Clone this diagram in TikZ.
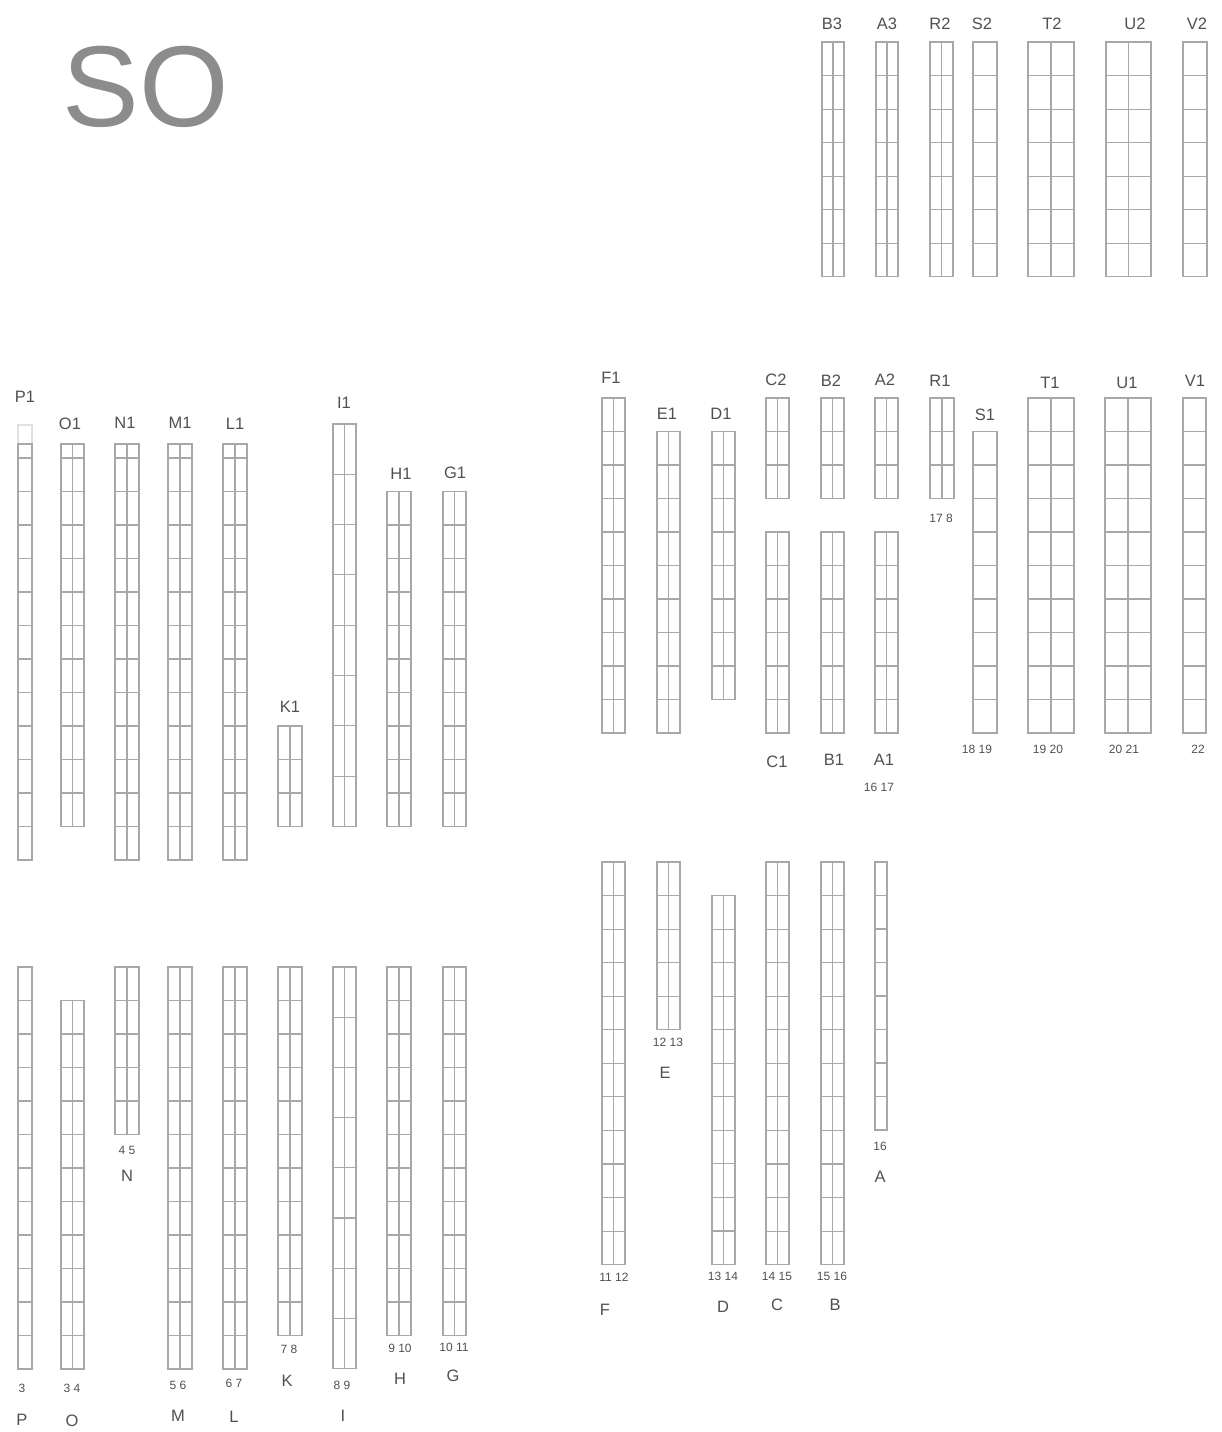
\documentclass[tikz,border=0pt]{standalone}
\usepackage{fontspec}
\setmainfont{Liberation Sans}
\definecolor{rackgray}{HTML}{A8A8A8}
\definecolor{labelgray}{HTML}{505050}
\definecolor{sogray}{HTML}{8C8C8C}
\tikzset{
  rk/.style={draw=rackgray, line width=1.1pt},
  lbl/.style={font=\fontsize{16.5}{16.5}\selectfont, text=labelgray, inner sep=0pt},
  num/.style={font=\fontsize{12}{12}\selectfont, text=labelgray, inner sep=0pt},
}
% #1 x, #2 width, #3 columns (1/2), #4 top, #5 pitch, #6 cells
\newcommand\rk[6]{%
  \pgfmathsetmacro\rkb{#4+#6*#5}%
  \pgfmathsetmacro\rkr{#1+#2}%
  \pgfmathsetmacro\rkm{#1+#2/2}%
  \draw[rk] (#1,#4) rectangle (\rkr,\rkb);
  \ifnum#3=2 \draw[rk] (\rkm,#4) -- (\rkm,\rkb);\fi
  \ifnum#6>1 \foreach \k in {2,...,#6}{\pgfmathsetmacro\rky{#4+(\k-1)*#5}\draw[rk] (#1,\rky) -- (\rkr,\rky);}\fi
}
% small cap cell: #1 x, #2 width, #3 columns, #4 top, #5 bottom
\newcommand\rkcap[5]{%
  \pgfmathsetmacro\rkr{#1+#2}%
  \pgfmathsetmacro\rkm{#1+#2/2}%
  \draw[rk] (#1,#4) rectangle (\rkr,#5);
  \ifnum#3=2 \draw[rk] (\rkm,#4) -- (\rkm,#5);\fi
}
\begin{document}
\begin{tikzpicture}[x=1pt,y=-1pt]
\useasboundingbox (0,0) rectangle (1221,1432);

\node[font=\fontsize{115}{115}\selectfont, text=sogray, inner sep=0pt, anchor=base] (so) at (146,126) {SO};

% ---------- top right group ----------
\rk{822}{22}{2}{42}{33.55}{7}
\rk{876}{22}{2}{42}{33.55}{7}
\rk{930}{23}{2}{42}{33.55}{7}
\rk{973}{24}{1}{42}{33.55}{7}
\rk{1028}{46}{2}{42}{33.55}{7}
\rk{1106}{45}{2}{42}{33.55}{7}
\rk{1183}{24}{1}{42}{33.55}{7}
\node[lbl] (lB3) at (832,24) {B3};
\node[lbl] (lA3) at (887,24) {A3};
\node[lbl] (lR2) at (940,24) {R2};
\node[lbl] (lS2) at (982,24) {S2};
\node[lbl] (lT2) at (1052,24) {T2};
\node[lbl] (lU2) at (1135,24) {U2};
\node[lbl] (lV2) at (1197,24) {V2};

% ---------- left upper group ----------
\draw[rk, draw=rackgray!35] (18,425) rectangle (32,444);
\rkcap{18}{14}{1}{444}{458}
\rk{18}{14}{1}{458}{33.5}{12}
\rkcap{61}{23}{2}{444}{458}
\rk{61}{23}{2}{458}{33.5}{11}
\rkcap{115}{24}{2}{444}{458}
\rk{115}{24}{2}{458}{33.5}{12}
\rkcap{168}{24}{2}{444}{458}
\rk{168}{24}{2}{458}{33.5}{12}
\rkcap{223}{24}{2}{444}{458}
\rk{223}{24}{2}{458}{33.5}{12}
\rk{278}{24}{2}{726}{33.5}{3}
\rk{333}{23}{2}{424}{50.3}{8}
\rk{387}{24}{2}{491.5}{33.5}{10}
\rk{443}{23}{2}{491.5}{33.5}{10}
\node[lbl] (lP1) at (25,397) {P1};
\node[lbl] (lO1) at (70,424) {O1};
\node[lbl] (lN1) at (125,423) {N1};
\node[lbl] (lM1) at (180,423) {M1};
\node[lbl] (lL1) at (235,424) {L1};
\node[lbl] (lK1) at (290,707) {K1};
\node[lbl] (lI1) at (344,403) {I1};
\node[lbl] (lH1) at (401,474) {H1};
\node[lbl] (lG1) at (455,473) {G1};

% ---------- left lower group ----------
\rk{18}{14}{1}{967}{33.5}{12}
\rk{61}{23}{2}{1000.5}{33.5}{11}
\rk{115}{24}{2}{967}{33.5}{5}
\rk{168}{24}{2}{967}{33.5}{12}
\rk{223}{24}{2}{967}{33.5}{12}
\rk{278}{24}{2}{967}{33.5}{11}
\rk{333}{23}{2}{967}{50.2}{8}
\rk{387}{24}{2}{967}{33.5}{11}
\rk{443}{23}{2}{967}{33.5}{11}
\node[num] (n3) at (22,1388) {3};
\node[num] (n34) at (72,1388) {3 4};
\node[num] (n45) at (127,1150) {4 5};
\node[num] (n56) at (178,1385) {5 6};
\node[num] (n67) at (234,1383) {6 7};
\node[num] (n78) at (289,1349) {7 8};
\node[num] (n89) at (342,1385) {8 9};
\node[num] (n910) at (400,1348) {9 10};
\node[num] (n1011) at (454,1347) {10 11};
\node[lbl] (lP) at (22,1420) {P};
\node[lbl] (lO) at (72,1421) {O};
\node[lbl] (lN) at (127,1176) {N};
\node[lbl] (lM) at (178,1416) {M};
\node[lbl] (lL) at (234,1417) {L};
\node[lbl] (lK) at (287,1381) {K};
\node[lbl] (lI) at (343,1416) {I};
\node[lbl] (lH) at (400,1379) {H};
\node[lbl] (lG) at (453,1376) {G};

% ---------- right middle group ----------
\rk{602}{23}{2}{398}{33.5}{10}
\rk{657}{23}{2}{431.5}{33.5}{9}
\rk{712}{23}{2}{431.5}{33.5}{8}
\rk{766}{23}{2}{398}{33.5}{3}
\rk{821}{23}{2}{398}{33.5}{3}
\rk{875}{23}{2}{398}{33.5}{3}
\rk{930}{24}{2}{398}{33.5}{3}
\rk{766}{23}{2}{532}{33.5}{6}
\rk{821}{23}{2}{532}{33.5}{6}
\rk{875}{23}{2}{532}{33.5}{6}
\rk{973}{24}{1}{431.5}{33.5}{9}
\rk{1028}{46}{2}{398}{33.5}{10}
\rk{1105}{46}{2}{398}{33.5}{10}
\rk{1183}{23}{1}{398}{33.5}{10}
\node[lbl] (lF1) at (611,378) {F1};
\node[lbl] (lE1) at (667,414) {E1};
\node[lbl] (lD1) at (721,414) {D1};
\node[lbl] (lC2) at (776,380) {C2};
\node[lbl] (lB2) at (831,381) {B2};
\node[lbl] (lA2) at (885,380) {A2};
\node[lbl] (lR1) at (940,381) {R1};
\node[num] (n178) at (941,518) {17 8};
\node[lbl] (lS1) at (985,415) {S1};
\node[lbl] (lT1) at (1050,383) {T1};
\node[lbl] (lU1) at (1127,383) {U1};
\node[lbl] (lV1) at (1195,381) {V1};
\node[lbl] (lC1) at (777,762) {C1};
\node[lbl] (lB1) at (834,760) {B1};
\node[lbl] (lA1) at (884,760) {A1};
\node[num] (n1617) at (879,787) {16 17};
\node[num] (n1819) at (977,749) {18 19};
\node[num] (n1920) at (1048,749) {19 20};
\node[num] (n2021) at (1124,749) {20 21};
\node[num] (n22) at (1198,749) {22};

% ---------- right lower group ----------
\rk{602}{23}{2}{862}{33.55}{12}
\rk{657}{23}{2}{862}{33.55}{5}
\rk{712}{23}{2}{895.5}{33.55}{11}
\rk{766}{23}{2}{862}{33.55}{12}
\rk{821}{23}{2}{862}{33.55}{12}
\rk{875}{12}{1}{862}{33.5}{8}
\node[num] (n1213) at (668,1042) {12 13};
\node[lbl] (lE) at (665,1073) {E};
\node[num] (n16) at (880,1146) {16};
\node[lbl] (lA) at (880,1177) {A};
\node[num] (n1112) at (614,1277) {11 12};
\node[lbl] (lF) at (605,1310) {F};
\node[num] (n1314) at (723,1276) {13 14};
\node[lbl] (lD) at (723,1307) {D};
\node[num] (n1415) at (777,1276) {14 15};
\node[lbl] (lC) at (777,1305) {C};
\node[num] (n1516) at (832,1276) {15 16};
\node[lbl] (lB) at (835,1305) {B};
\end{tikzpicture}
\end{document}
